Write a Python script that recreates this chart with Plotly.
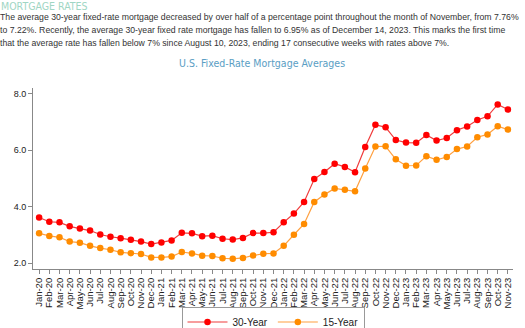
import plotly.graph_objects as go

months = ["Jan-20","Feb-20","Mar-20","Apr-20","May-20","Jun-20","Jul-20","Aug-20","Sep-20","Oct-20","Nov-20","Dec-20",
          "Jan-21","Feb-21","Mar-21","Apr-21","May-21","Jun-21","Jul-21","Aug-21","Sep-21","Oct-21","Nov-21","Dec-21",
          "Jan-22","Feb-22","Mar-22","Apr-22","May-22","Jun-22","Jul-22","Aug-22","Sep-22","Oct-22","Nov-22","Dec-22",
          "Jan-23","Feb-23","Mar-23","Apr-23","May-23","Jun-23","Jul-23","Aug-23","Sep-23","Oct-23","Nov-23"]

rate_30 = [3.62,3.47,3.45,3.31,3.23,3.16,3.02,2.94,2.89,2.83,2.77,2.68,
           2.74,2.81,3.08,3.06,2.96,2.98,2.87,2.84,2.90,3.07,3.07,3.10,
           3.45,3.76,4.17,4.98,5.23,5.52,5.41,5.22,6.11,6.90,6.81,6.36,
           6.27,6.26,6.54,6.34,6.43,6.71,6.84,7.07,7.20,7.62,7.44]

rate_15 = [3.06,2.97,2.92,2.77,2.73,2.62,2.54,2.48,2.39,2.36,2.33,2.21,
           2.21,2.24,2.40,2.35,2.27,2.26,2.18,2.16,2.19,2.28,2.34,2.35,
           2.62,3.01,3.39,4.17,4.43,4.65,4.60,4.55,5.35,6.13,6.14,5.68,
           5.45,5.46,5.79,5.66,5.76,6.04,6.13,6.46,6.56,6.85,6.73]

y_ticks = [2.0, 4.0, 6.0, 8.0]

heading = "MORTGAGE RATES"
paragraph_lines = [
    "The average 30-year fixed-rate mortgage decreased by over half of a percentage point throughout the month of November, from 7.76%",
    "to 7.22%. Recently, the average 30-year fixed rate mortgage has fallen to 6.95% as of December 14, 2023. This marks the first time",
    "that the average rate has fallen below 7% since August 10, 2023, ending 17 consecutive weeks with rates above 7%.",
]
chart_title = "U.S. Fixed-Rate Mortgage Averages"

W, H = 525, 328
ML, MR, MT, MB = 33, 12, 88, 59
PW, PH = W - ML - MR, H - MT - MB

def px(x):
    return (x - ML) / PW

def py(y):
    return (H - MB - y) / PH

x_idx = list(range(len(months)))

fig = go.Figure()
fig.add_trace(go.Scatter(x=x_idx, y=rate_30, name="30-Year", mode="lines+markers",
                         line=dict(color="#f03c3c", width=1.2),
                         marker=dict(color="#ff0000", size=6.5)))
fig.add_trace(go.Scatter(x=x_idx, y=rate_15, name="15-Year", mode="lines+markers",
                         line=dict(color="#ffa040", width=1.2),
                         marker=dict(color="#ff8c00", size=6.5)))

cond = "Liberation Sans Narrow, DejaVu Sans Condensed, Roboto Condensed, Arial Narrow, sans-serif"

fig.update_layout(
    width=W, height=H,
    margin=dict(l=ML, r=MR, t=MT, b=MB, autoexpand=False),
    paper_bgcolor="white", plot_bgcolor="white",
    font=dict(family="Liberation Sans, Arial, sans-serif", color="#222", size=9),
    showlegend=True,
    legend=dict(orientation="h", x=px(273), xanchor="center", y=py(306.5), yanchor="top",
                bordercolor="#999", borderwidth=1, font=dict(size=10, color="#222"),
                itemwidth=40, tracegroupgap=0),
    xaxis=dict(range=[-0.6, 46.5], tickmode="array", tickvals=x_idx, ticktext=months,
               tickangle=-90, ticks="outside", ticklen=4, tickcolor="#888", automargin=False,
               showline=True, linecolor="#888", linewidth=1, showgrid=False, zeroline=False,
               tickfont=dict(size=9.5, color="#222")),
    yaxis=dict(range=[1.8, 8.2], tickmode="array", tickvals=y_ticks,
               ticktext=[f"{v:.1f}" for v in y_ticks], automargin=False,
               ticks="outside", ticklen=4, tickcolor="#888",
               showline=True, linecolor="#888", linewidth=1, showgrid=False, zeroline=False,
               tickfont=dict(size=9, color="#222")),
)

fig.add_annotation(text=heading, xref="paper", yref="paper", x=px(-1), y=py(6),
                   xanchor="left", yanchor="middle", showarrow=False,
                   font=dict(family=cond, size=10.5, color="#9fd6c4"))
for i, line in enumerate(paragraph_lines):
    fig.add_annotation(text=line, xref="paper", yref="paper", x=px(-2), y=py(17.5 + 12.6 * i),
                       xanchor="left", yanchor="middle", showarrow=False, align="left",
                       font=dict(family="Liberation Sans, Arial, sans-serif", size=8.7, color="#333"))
fig.add_annotation(text=chart_title, xref="paper", yref="paper", x=px(262), y=py(63),
                   xanchor="center", yanchor="middle", showarrow=False,
                   font=dict(family=cond, size=10.5, color="#5a9ec4"))

fig.write_html("out.html")
